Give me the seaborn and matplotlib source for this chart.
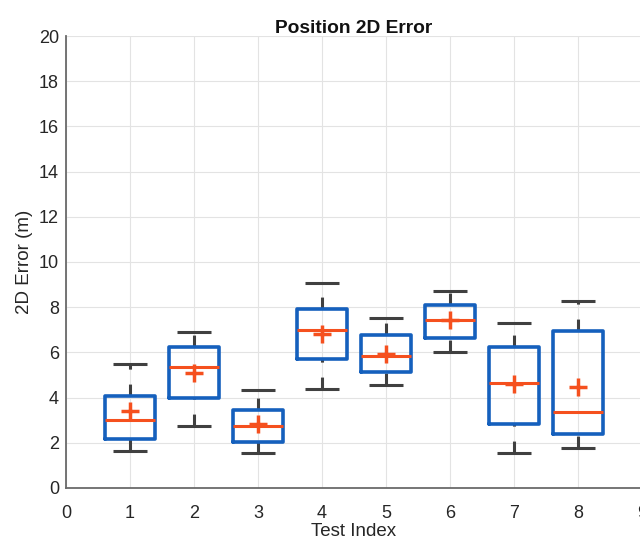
import matplotlib
matplotlib.use("Agg")
import matplotlib.pyplot as plt
import seaborn as sns

# ---- data ----
tests = [1, 2, 3, 4, 5, 6, 7, 8]
q1 = [2.17, 4.00, 2.05, 5.69, 5.15, 6.65, 2.83, 2.38]
median = [3.02, 5.34, 2.74, 6.98, 5.83, 7.43, 4.65, 3.38]
q3 = [4.08, 6.23, 3.45, 7.91, 6.78, 8.10, 6.25, 6.95]
low = [1.64, 2.76, 1.53, 4.38, 4.56, 6.03, 1.53, 1.78]
high = [5.47, 6.90, 4.32, 9.07, 7.51, 8.72, 7.29, 8.29]
mean = [3.41, 5.07, 2.82, 6.81, 5.92, 7.45, 4.60, 4.48]
xticks = list(range(0, 10))
yticks = list(range(0, 21, 2))

title = "Position 2D Error"
xlabel = "Test Index"
ylabel = "2D Error (m)"

BLUE = "#1560bd"
RED = "#f5501e"
GRAY = "#404040"

sns.set_theme(style="whitegrid")
plt.rcParams["font.family"] = ["Liberation Sans", "DejaVu Sans"]

fig = plt.figure(figsize=(6.4, 5.39), dpi=100)
ax = fig.add_axes([66 / 640, 51 / 539, 576 / 640, 452 / 539])
ax.set_facecolor("white")

stats = [
    dict(med=m, q1=a, q3=b, whislo=a, whishi=b, fliers=[], label=str(t))
    for t, a, m, b in zip(tests, q1, median, q3)
]
ax.bxp(stats, positions=tests, widths=0.78, showcaps=False, showfliers=False,
       patch_artist=False,
       boxprops=dict(color=BLUE, linewidth=2.6, zorder=4),
       medianprops=dict(color=RED, linewidth=2.2, zorder=5),
       whiskerprops=dict(linewidth=0))

# whiskers (dashed, drawn from the lower end upwards) and caps
for t, lo, a, b, hi in zip(tests, low, q1, q3, high):
    for y0, y1 in ((lo, a), (b, hi)):
        ax.plot([t, t], [y0, y1], color=GRAY, linewidth=2.2,
                linestyle=(0, (3.9, 4.9)), solid_capstyle="butt", zorder=3)
ax.hlines(low, [t - 0.26 for t in tests], [t + 0.26 for t in tests],
          color=GRAY, linewidth=2.2, zorder=3)
ax.hlines(high, [t - 0.26 for t in tests], [t + 0.26 for t in tests],
          color=GRAY, linewidth=2.2, zorder=3)

sns.scatterplot(x=tests, y=mean, marker="+", s=170, color=RED,
                linewidth=2.5, zorder=6, ax=ax)

ax.set_xlim(0, 9)
ax.set_ylim(0, 20)
ax.set_xticks(xticks)
ax.set_xticklabels([str(v) for v in xticks])
ax.set_yticks(yticks)
ax.set_yticklabels([str(v) for v in yticks])

ax.grid(True, color="#e3e3e3", linewidth=0.8)
ax.set_axisbelow(True)
for side in ("top", "right"):
    ax.spines[side].set_visible(False)
for side in ("left", "bottom"):
    ax.spines[side].set_visible(True)
    ax.spines[side].set_color("#6a6a6a")
    ax.spines[side].set_linewidth(1.3)

ax.tick_params(axis="both", direction="in", length=4, width=1.0,
               color="#6a6a6a", labelsize=13, labelcolor="#262626")
ax.tick_params(axis="x", pad=12)
ax.tick_params(axis="y", pad=5)

ax.set_xlabel(xlabel, fontsize=13.5, color="#262626", labelpad=1)
ax.set_ylabel(ylabel, fontsize=13.5, color="#262626", labelpad=4)
ax.set_title(title, fontsize=13.8, fontweight="bold", color="#111111", pad=2)

fig.savefig("out.png", dpi=100)
